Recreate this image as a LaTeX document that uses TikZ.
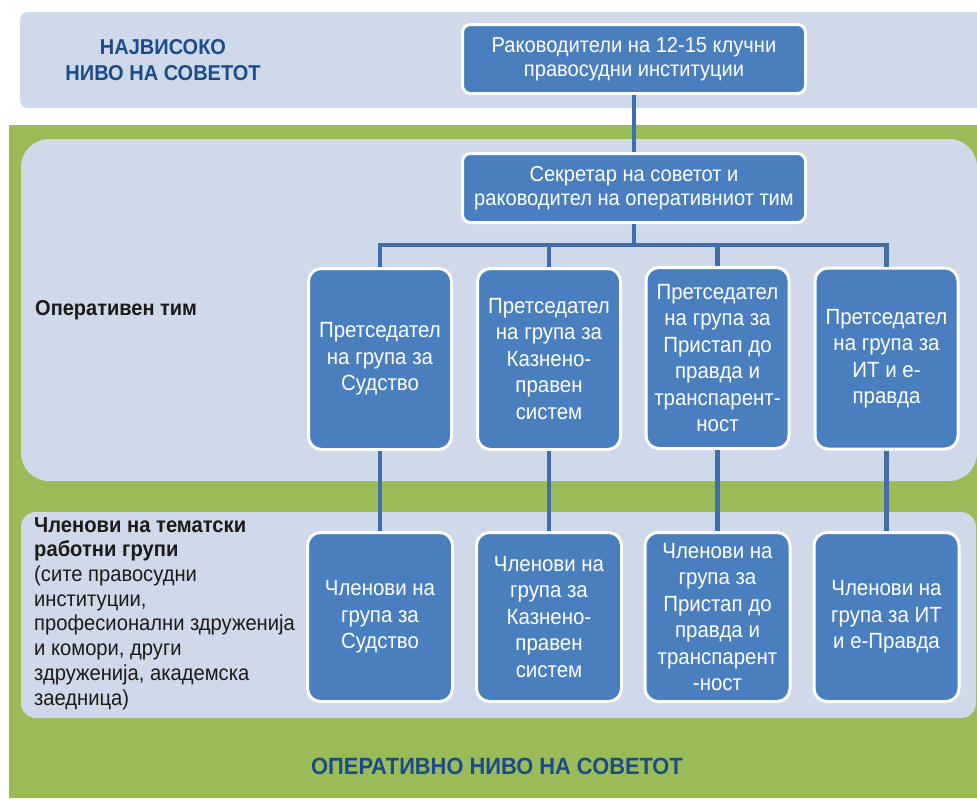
\documentclass[tikz,border=0pt]{standalone}
\usepackage{fontspec}
\setmainfont{Liberation Sans}[FakeStretch=0.93]
\definecolor{panel}{HTML}{D0D9E9}
\definecolor{grn}{HTML}{9BBB59}
\definecolor{boxblue}{HTML}{4A7FBF}
\definecolor{conn}{HTML}{3F6EA8}
\definecolor{dblue}{HTML}{1B4C87}
\definecolor{lblack}{HTML}{1A1A1A}
\begin{document}
\begin{tikzpicture}[x=1pt,y=-1pt,
  bluebox/.style={draw=white, line width=3pt, fill=boxblue, rounded corners=8pt,
    text=white, align=center, inner sep=0pt},
  topbox/.style={bluebox, minimum width=343pt, minimum height=69pt, font=\fontsize{21.6}{24.5}\selectfont},
  chairbox/.style={bluebox, rounded corners=13pt, minimum width=143pt, minimum height=181pt, font=\fontsize{22}{26.5}\selectfont},
  memberbox/.style={bluebox, rounded corners=13pt, minimum width=145pt, minimum height=169pt, font=\fontsize{22}{26.5}\selectfont},
  link/.style={draw=conn, line width=4.5pt},
  title/.style={text=dblue, font=\fontsize{21.5}{26}\selectfont\bfseries, align=center, inner sep=0pt},
  side/.style={text=lblack, font=\fontsize{21.7}{24.7}\selectfont, align=left, inner sep=0pt}]
\useasboundingbox (0,0) rectangle (977,798);
% backgrounds
\fill[panel, rounded corners=8pt] (20,12) rectangle (985,108);
\fill[grn] (9,125) rectangle (977,798);
\fill[panel, rounded corners=28pt] (21,139) rectangle (977,481);
\fill[panel, rounded corners=15pt] (21,512) rectangle (976,718);
% labels
\node[title] (lvl1) at (163,60) {НАЈВИСОКО\\НИВО НА СОВЕТОТ};
\node[title, font=\fontsize{23.5}{26}\selectfont\bfseries] (lvl2) at (497,766) {ОПЕРАТИВНО НИВО НА СОВЕТОТ};
\node[side, anchor=west, font=\fontsize{21.5}{24.7}\selectfont\bfseries] (optim) at (35,310) {Оперативен тим};
\node[side, anchor=north west] (memlbl) at (34,517) {\textbf{Членови на тематски}\\\textbf{работни групи}\\(сите правосудни\\институции,\\професионални здруженија\\и комори, други\\здруженија, академска\\заедница)};
% boxes
\node[topbox] (top) at (634,59) {Раководители на 12-15 клучни\\правосудни институции};
\node[topbox] (sec) at (634,188) {Секретар на советот и\\раководител на оперативниот тим};
\node[chairbox] (c1) at (380,359) {Претседател\\на група за\\Судство};
\node[chairbox] (c2) at (549,359) {Претседател\\на група за\\Казнено-\\правен\\систем};
\node[chairbox] (c3) at (717.5,358) {Претседател\\на група за\\Пристап до\\правда и\\транспарент-\\ност};
\node[chairbox] (c4) at (886.5,358.5) {Претседател\\на група за\\ИТ и е-\\правда};
\node[memberbox] (m1) at (380,617) {Членови на\\група за\\Судство};
\node[memberbox] (m2) at (549,617) {Членови на\\група за\\Казнено-\\правен\\систем};
\node[memberbox] (m3) at (717.5,617) {Членови на\\група за\\Пристап до\\правда и\\транспарент\\-ност};
\node[memberbox] (m4) at (886.5,617) {Членови на\\група за ИТ\\и е-Правда};
% connectors
\coordinate (bar) at (634,245);
\draw[link] (top.south) -- (sec.north);
\draw[link] (sec.south) -- (bar);
\draw[link] (c1.north) |- (bar);
\draw[link] (c2.north) |- (bar);
\draw[link] (c3.north) |- (bar);
\draw[link] (c4.north) |- (bar);
\draw[link] (c1.south) -- (m1.north);
\draw[link] (c2.south) -- (m2.north);
\draw[link] (c3.south) -- (m3.north);
\draw[link] (c4.south) -- (m4.north);
\end{tikzpicture}
\end{document}
